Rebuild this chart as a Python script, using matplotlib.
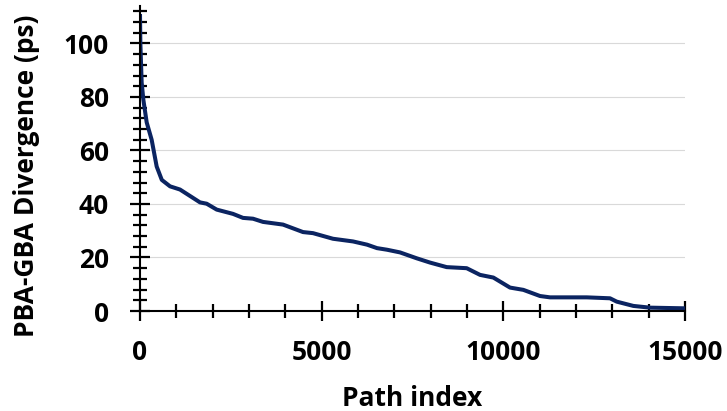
import matplotlib
matplotlib.use("Agg")
import matplotlib.pyplot as plt
from matplotlib.ticker import MultipleLocator

plt.rcParams['font.family'] = ['Open Sans', 'DejaVu Sans']
plt.rcParams['font.weight'] = 'bold'

# Sorted divergence per timing path
path_index = [0, 10, 46, 92, 184, 321, 459, 600, 826, 1101, 1651, 1835, 2111,
              2560, 2835, 3110, 3386, 3936, 4487, 4762, 5312, 5863, 6248, 6523,
              6799, 7156, 7616, 7982, 8441, 8991, 9359, 9725, 10184, 10551,
              11010, 11285, 12295, 12936, 13121, 13578, 14037, 15000]
divergence_ps = [111, 100, 85.4, 79, 70.5, 64, 54, 49, 46.6, 45.4, 40.6, 40.1,
                 37.9, 36.3, 34.8, 34.5, 33.3, 32.3, 29.5, 29.1, 27, 26, 24.8,
                 23.5, 22.9, 21.9, 19.7, 18.1, 16.4, 16, 13.5, 12.5, 8.75, 7.9,
                 5.6, 5.1, 5.1, 4.75, 3.5, 1.9, 1.25, 1.0]

x_ticks = [0, 5000, 10000, 15000]
y_ticks = [0, 20, 40, 60, 80, 100]

W, H = 727, 411
fig = plt.figure(figsize=(W / 100, H / 100), dpi=100)
ax = fig.add_axes([140 / W, 1 - 311 / H, 545 / W, 305 / H])

ax.plot(path_index, divergence_ps, color='#0b2461', lw=2.9,
        solid_joinstyle='round', solid_capstyle='butt', zorder=3)

ax.set_xlim(0, 15000)
ax.set_ylim(0, 114)
ax.set_xticks(x_ticks)
ax.set_yticks(y_ticks)
ax.xaxis.set_minor_locator(MultipleLocator(1000))
ax.yaxis.set_minor_locator(MultipleLocator(4))

for y in y_ticks[1:]:
    ax.axhline(y, color='#d9d9d9', lw=0.8, zorder=1)

for side in ('top', 'right'):
    ax.spines[side].set_visible(False)
for side in ('left', 'bottom'):
    ax.spines[side].set_linewidth(1.5)
    ax.spines[side].set_color('black')
    ax.spines[side].set_zorder(4)

ax.tick_params(axis='both', which='major', direction='inout', length=15,
               width=1.6, labelsize=19, color='black')
ax.tick_params(axis='both', which='minor', direction='inout', length=10.5,
               width=1.6, color='black')
ax.tick_params(axis='x', which='major', pad=13)
ax.tick_params(axis='y', which='major', pad=15)
for lab in ax.get_xticklabels() + ax.get_yticklabels():
    lab.set_fontweight('bold')

fig.text(27 / W, 1 - 175.5 / H, 'PBA-GBA Divergence (ps)', rotation=90,
         ha='center', va='center', fontsize=19, fontweight='bold')
fig.text(412.5 / W, 1 - 398 / H, 'Path index', ha='center', va='center',
         fontsize=19, fontweight='bold')

fig.savefig('out.png', dpi=100)
